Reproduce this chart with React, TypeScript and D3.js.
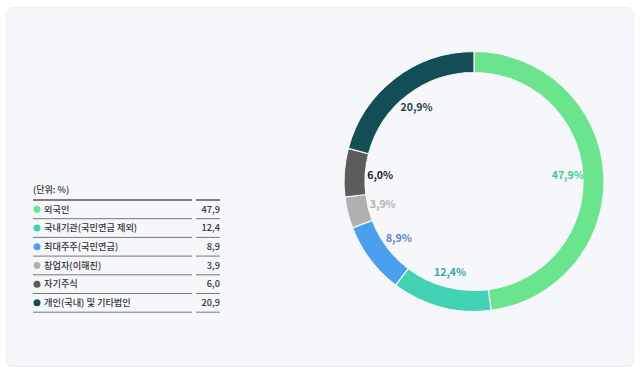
import React from 'react'
import * as d3 from 'd3'

const NAMES = ['외국인', '국내기관(국민연금 제외)', '최대주주(국민연금)', '창업자(이해진)', '자기주식', '개인(국내) 및 기타법인']
const VALUES = [47.9, 12.4, 8.9, 3.9, 6.0, 20.9]
const COLORS = ['#6be48e', '#41d3b3', '#4aa0ee', '#b0b0b0', '#5c5c5c', '#134e56']
const LABEL_COLORS = ['#3ec88e', '#35a3a8', '#5a80c8', '#b2b2b2', '#222222', '#1f3f47']
const UNIT = '(단위: %)'

const W = 640
const H = 374
const FONT = '"Noto Sans CJK KR", "Noto Sans", sans-serif'

const fmt = (v: number) => v.toFixed(1).replace('.', ',')

const App: React.FC = () => {
  const cx = 474
  const cy = 181.5
  const outer = 130
  const inner = 109

  const pie = d3.pie<number>().sort(null).value(d => d)
  const arcs = pie(VALUES)
  const arc = d3.arc<d3.PieArcDatum<number>>().innerRadius(inner).outerRadius(outer)
  const labelArc = d3.arc<d3.PieArcDatum<number>>().innerRadius(94).outerRadius(94)

  // 범례 표
  const tx = 33
  const nameEnd = 192
  const valStart = 196
  const valEnd = 220
  const headerY = 200
  const rowH = 18.7
  const rows = d3.range(NAMES.length)
  const y = d3.scaleLinear().domain([0, NAMES.length]).range([headerY, headerY + rowH * NAMES.length])

  return (
    <svg width={W} height={H} style={{ position: 'absolute', left: 0, top: 0, fontFamily: FONT }}>
      <rect x={0} y={0} width={W} height={H} fill="#ffffff" />
      <rect x={6.5} y={7.5} width={627} height={359} rx={6} fill="#f5f7fa" stroke="#eceef2" />

      <g transform={`translate(${cx},${cy})`}>
        {arcs.map((a, i) => (
          <path key={i} d={arc(a) || ''} fill={COLORS[i]} stroke="#f5f7fa" strokeWidth={1.2} />
        ))}
        {arcs.map((a, i) => {
          const [lx, ly] = labelArc.centroid(a)
          return (
            <text key={i} x={lx} y={ly} dy="0.35em" textAnchor="middle" fontSize={10.5}
              fontWeight={700} fill={LABEL_COLORS[i]}>
              {fmt(VALUES[i])}%
            </text>
          )
        })}
      </g>

      <g>
        <text x={tx} y={headerY - 7} fontSize={9} fontWeight={500} fill="#333">{UNIT}</text>
        {[0, ...rows.map(r => r + 1)].map(r => (
          <g key={r}>
            <line x1={tx} x2={nameEnd} y1={y(r)} y2={y(r)} stroke={r === 0 ? '#555' : '#777'} strokeWidth={r === 0 ? 1.5 : 1} />
            <line x1={valStart} x2={valEnd} y1={y(r)} y2={y(r)} stroke={r === 0 ? '#555' : '#777'} strokeWidth={r === 0 ? 1.5 : 1} />
          </g>
        ))}
        {rows.map(r => {
          const my = (y(r) + y(r + 1)) / 2
          return (
            <g key={r}>
              <circle cx={tx + 4} cy={my} r={3.5} fill={COLORS[r]} />
              <text x={tx + 11} y={my} dy="0.35em" fontSize={9.2} fontWeight={500} fill="#333">{NAMES[r]}</text>
              <text x={valEnd} y={my} dy="0.35em" fontSize={9.2} fontWeight={500} fill="#333" textAnchor="end">{fmt(VALUES[r])}</text>
            </g>
          )
        })}
      </g>
    </svg>
  )
}

export default App
